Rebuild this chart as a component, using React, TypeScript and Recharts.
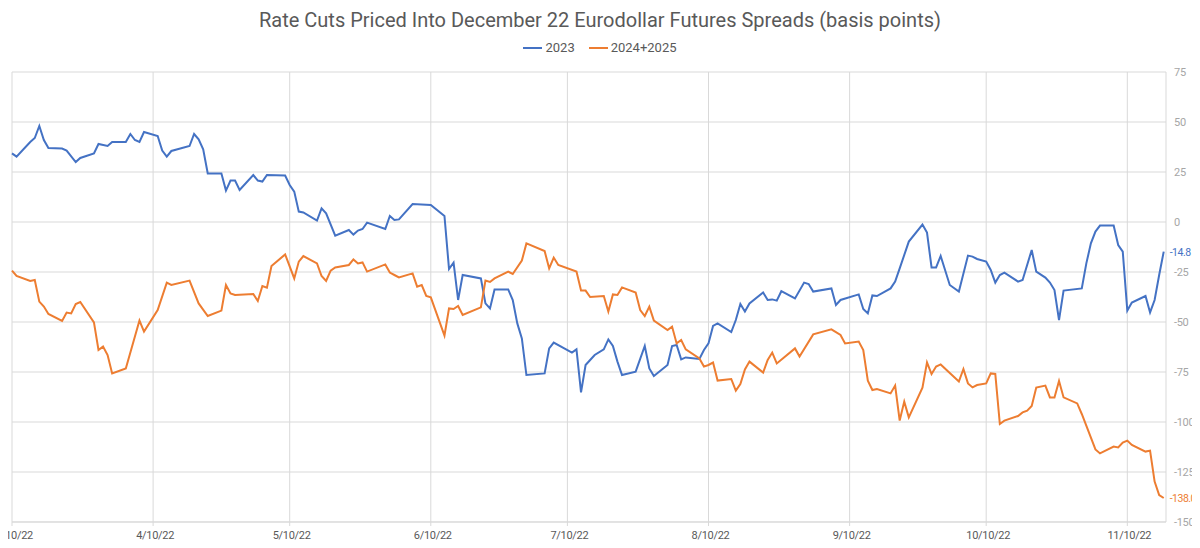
import { LineChart, Line, XAxis, YAxis, CartesianGrid } from 'recharts';

// x positions are calendar days counted from 3/10/22
const tickDays = [0, 31, 61, 92, 122, 153, 184, 214, 245];
const tickLabels = ['3/10/22', '4/10/22', '5/10/22', '6/10/22', '7/10/22', '8/10/22', '9/10/22', '10/10/22', '11/10/22'];
const yTicks = [75, 50, 25, 0, -25, -50, -75, -100, -125, -150];

const days2023 = [
  0, 1, 4, 5, 6, 7, 8, 11, 12, 14, 15, 18, 19, 21, 22, 25, 26, 27, 28, 29,
  32, 33, 34, 35, 39, 40, 41, 42, 43, 46, 47, 48, 49, 50, 53, 54, 55, 56, 60, 61,
  62, 63, 64, 67, 68, 69, 71, 74, 75, 76, 77, 78, 82, 83, 84, 85, 88, 92, 95, 96,
  97, 98, 99, 103, 104, 105, 106, 109, 110, 111, 112, 113, 117, 118, 119, 123, 124, 125, 126, 127,
  128, 130, 131, 132, 133, 134, 137, 139, 140, 141, 144, 145, 146, 147, 148, 151, 152, 153, 154, 155,
  158, 159, 160, 161, 162, 165, 166, 167, 168, 169, 172, 174, 175, 176, 180, 181, 182, 186, 187, 188,
  189, 190, 193, 194, 195, 197, 200, 201, 202, 203, 204, 206, 208, 210, 211, 212, 214, 215, 216, 217,
  218, 221, 222, 224, 225, 227, 228, 229, 230, 231, 235, 236, 237, 238, 239, 242, 243, 244, 245, 246,
  249, 250, 251, 252, 253,
];
const values2023 = [
  34.3, 32.7, 40, 42, 48, 41, 37, 36.7, 35.7, 30, 32, 34.3, 39, 38, 40, 40, 44, 41, 40, 45,
  43, 35.7, 32.7, 35.5, 38, 44, 41.3, 36.3, 24.3, 24.3, 15.7, 20.7, 20.7, 16, 23.5, 20.7, 20.2, 23.5, 23.2, 18.5,
  15.2, 5.2, 4.8, 0.7, 6.8, 4.3, -6.8, -4, -6.3, -4.3, -3.5, -0.3, -3.5, 3, 1, 1.3, 9, 8.5, 3, -23.5,
  -20.3, -39, -26.5, -28.2, -40.7, -43.2, -33.7, -33.7, -39, -50.7, -58.2, -76.5, -75.7, -63.2, -60.3, -65.3, -63.7, -85.2, -71.5, -69,
  -66.5, -63.7, -58.7, -62, -69.8, -76.5, -74.8, -62, -73.2, -77, -71.5, -62, -61.5, -68.7, -67.7, -68.5, -64, -60.7, -52, -50.7,
  -55, -49, -41, -44.8, -40.7, -35.2, -39, -38.7, -39.3, -34.6, -38.2, -30.3, -31, -34.8, -33.2, -41.5, -39, -36.2, -43.5, -45.7,
  -36.7, -37, -33.2, -29.8, -23.2, -9.8, -1.3, -5.3, -22.7, -22.7, -17, -31.5, -34.8, -16.8, -17.3, -18.5, -19.8, -24, -30.3, -26.5,
  -25.3, -29.8, -29, -14, -24.8, -27.8, -30.3, -34, -49, -34.3, -33.2, -20.7, -10.7, -4.8, -1.8, -1.8, -11.5, -14.8, -44.3, -40.3,
  -37, -45.2, -39, -26.5, -14.8,
];

const days2425 = [
  0, 1, 4, 5, 6, 7, 8, 11, 12, 13, 14, 15, 18, 19, 20, 21, 22, 25, 28, 29,
  32, 34, 35, 39, 41, 43, 46, 47, 48, 49, 53, 54, 55, 56, 57, 60, 62, 63, 64, 67,
  68, 69, 70, 71, 74, 75, 76, 77, 78, 82, 83, 84, 85, 88, 89, 90, 91, 92, 95, 96,
  97, 98, 99, 103, 104, 105, 106, 109, 110, 112, 113, 117, 118, 119, 120, 124, 125, 126, 127, 130,
  131, 132, 133, 134, 137, 138, 139, 140, 141, 144, 145, 146, 147, 148, 151, 152, 153, 154, 155, 158,
  159, 160, 161, 162, 165, 166, 167, 168, 172, 173, 176, 180, 182, 183, 186, 187, 188, 189, 190, 193,
  194, 195, 196, 197, 200, 201, 202, 203, 204, 208, 209, 210, 211, 212, 214, 215, 216, 217, 218, 221,
  222, 223, 224, 225, 227, 228, 229, 230, 231, 234, 235, 238, 239, 242, 243, 244, 245, 246, 249, 250,
  251, 252, 253,
];
const values2425 = [
  -24.3, -27, -29.5, -29, -39.8, -42.3, -46, -49.5, -45.3, -45.7, -41, -40, -50.2, -64, -62.3, -66.5, -75.7, -73.2, -49.3, -54.8,
  -44, -30.3, -31.5, -29.3, -40.7, -47, -44.3, -31.5, -35.7, -36.5, -36, -39.5, -32, -32.8, -22, -16.2, -28.2, -19.8, -17, -20.7,
  -27, -29.5, -24.3, -22.7, -21.5, -18.7, -20.7, -20.2, -24.8, -21.2, -25.3, -26.5, -27.7, -25.7, -32.3, -31.5, -37, -37.7, -56.8, -43.2,
  -43.5, -42, -46.5, -42.7, -29.3, -30, -28.2, -24.8, -26, -19.3, -10.7, -14.5, -23.2, -17.8, -21.5, -24.8, -34.3, -34.3, -37.5, -37,
  -44.8, -36.2, -36.5, -32.7, -35.3, -44, -47, -42.3, -49.3, -54, -52.3, -60.7, -59, -63.7, -68.2, -72.3, -71.5, -70.3, -79.3, -78.5,
  -84.3, -81, -73.7, -69.8, -75.3, -69, -65.3, -70.7, -63.2, -67.3, -56.2, -53.7, -56.5, -60.7, -59.8, -64, -79.3, -84, -83.5, -85.7,
  -81.8, -99.3, -89.8, -97.7, -82.8, -70.2, -76, -72.3, -71.2, -79.8, -73.5, -80.7, -82.7, -81.5, -80.7, -75.7, -76, -101, -99.3, -97,
  -95.2, -94.3, -92, -82.8, -81.8, -87.7, -87.7, -79.5, -87.7, -90.7, -96, -113.7, -115.7, -112.3, -112.7, -110.3, -109.3, -111.5, -114.8, -114.3,
  -129.8, -136.5, -138,
];

const BLUE = '#4472C4';
const ORANGE = '#ED7D31';
const GRID = '#d9d9d9';
const FONT = 'Roboto, sans-serif';

const data2023 = days2023.map((day, i) => ({ day, value: values2023[i] }));
const data2425 = days2425.map((day, i) => ({ day, value: values2425[i] }));

// writes the latest value just right of the final point
function endLabel(color: string, lastIndex: number) {
  return (props: any) => {
    if (props.index !== lastIndex) return null;
    return (
      <text
        x={props.x + 6}
        y={props.y}
        dy={4}
        fill={color}
        fontSize={10.5}
        fontFamily={FONT}
        letterSpacing={-0.5}
      >
        {Number(props.value).toFixed(1)}
      </text>
    );
  };
}

function DateTick({ x, y, payload }: any) {
  const label = tickLabels[tickDays.indexOf(payload.value)] ?? '';
  return (
    <text x={x + 2} y={y} dy={7} textAnchor="middle" fill="#595959" fontSize={11} fontFamily={FONT} letterSpacing={-0.3}>
      {label}
    </text>
  );
}

function LegendItem({ color, label }: { color: string; label: string }) {
  return (
    <span style={{ display: 'inline-flex', alignItems: 'center', margin: '0 7px' }}>
      <span style={{ width: 19, height: 2, background: color, marginRight: 3, display: 'inline-block' }} />
      <span>{label}</span>
    </span>
  );
}

export default function App() {
  return (
    <div style={{ position: 'relative', width: 1200, height: 548, margin: -8, background: '#fff', overflow: 'hidden' }}>
      <div
        style={{
          position: 'absolute', top: 8, left: 0, width: 1200, textAlign: 'center',
          fontFamily: FONT, fontSize: 20, lineHeight: '24px', color: '#595959',
        }}
      >
        Rate Cuts Priced Into December 22 Eurodollar Futures Spreads (basis points)
      </div>
      <div
        style={{
          position: 'absolute', top: 40, left: 0, width: 1200, display: 'flex', justifyContent: 'center',
          fontFamily: FONT, fontSize: 13, lineHeight: '16px', color: '#595959',
        }}
      >
        <LegendItem color={BLUE} label="2023" />
        <LegendItem color={ORANGE} label="2024+2025" />
      </div>
      <LineChart width={1200} height={548} margin={{ top: 72, right: 0, left: 12, bottom: 0 }} style={{ overflow: 'visible' }}>
        <CartesianGrid stroke={GRID} />
        <XAxis
          dataKey="day"
          type="number"
          domain={[0, 253.5]}
          ticks={tickDays}
          interval={0}
          allowDuplicatedCategory={false}
          height={26}
          stroke={GRID}
          tickSize={4}
          tickMargin={6}
          tick={<DateTick />}
        />
        <YAxis
          orientation="right"
          domain={[-150, 75]}
          ticks={yTicks}
          width={34}
          axisLine={false}
          tickLine={false}
          tick={{ fill: '#a6a6a6', fontSize: 11, fontFamily: FONT, letterSpacing: -0.3 }}
        />
        <Line
          data={data2023}
          dataKey="value"
          name="2023"
          stroke={BLUE}
          strokeWidth={2}
          dot={false}
          isAnimationActive={false}
          label={endLabel(BLUE, data2023.length - 1)}
        />
        <Line
          data={data2425}
          dataKey="value"
          name="2024+2025"
          stroke={ORANGE}
          strokeWidth={2}
          dot={false}
          isAnimationActive={false}
          label={endLabel(ORANGE, data2425.length - 1)}
        />
      </LineChart>
    </div>
  );
}
